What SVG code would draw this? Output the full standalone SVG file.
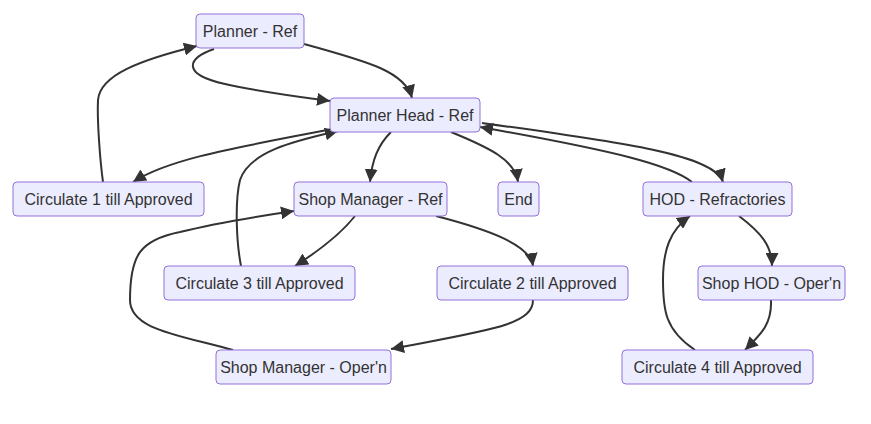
<svg xmlns="http://www.w3.org/2000/svg" width="871" height="424" viewBox="0 0 871 424">
<style>
.node rect{fill:#ECECFF;stroke:#9370DB;stroke-width:1}
.node text{font-family:"Liberation Sans",Arial,sans-serif;font-size:16px;fill:#333;text-anchor:middle;dominant-baseline:central}
.edges path{fill:none;stroke:#333;stroke-width:2;marker-end:url(#arrow)}
</style>
<defs>
<marker id="arrow" viewBox="0 0 10 10" refX="10" refY="5" markerWidth="13" markerHeight="13" markerUnits="userSpaceOnUse" orient="auto">
<path d="M0,0 L10,5 L0,10 z" fill="#333"/>
</marker>
</defs>
<rect width="871" height="424" fill="#fff"/>
<g class="edges">
<path d="M304,44 C370,62 405,72 412,98"/>
<path d="M214,49 C188,58 180,74 225,84 C260,92 300,97 330,101"/>
<path d="M103,182 C100,160 97,120 98,100 C100,75 140,60 197,46"/>
<path d="M338,128 C240,147 170,158 133,182"/>
<path d="M241,266 C236,240 235,200 240,180 C250,150 300,140 338,131"/>
<path d="M391,132 C378,145 372,160 370,182"/>
<path d="M451,132 C490,148 515,160 518,182"/>
<path d="M482,123 C620,142 715,155 723,182"/>
<path d="M692,182 C670,165 620,152 480,127"/>
<path d="M739,216 C760,232 772,245 772,266"/>
<path d="M771,300 C772,325 760,335 745,350"/>
<path d="M695,350 C665,330 663,310 663,280 C663,250 670,230 690,216"/>
<path d="M355,216 C340,235 320,250 295,266"/>
<path d="M436,216 C490,230 530,245 533,266"/>
<path d="M533,300 C533,325 490,330 391,349"/>
<path d="M233,350 C180,335 130,330 130,300 C130,255 140,240 180,232 C220,222 260,216 294,211"/>
</g>
<g id="planner-ref" class="node"><rect x="196" y="14" width="108" height="34" rx="4"/><text x="250" y="31">Planner - Ref</text></g>
<g id="planner-head-ref" class="node"><rect x="330" y="98" width="150" height="34" rx="4"/><text x="405" y="115">Planner Head - Ref</text></g>
<g id="circulate-1" class="node"><rect x="13" y="182" width="191" height="34" rx="4"/><text x="108.5" y="199">Circulate 1 till Approved</text></g>
<g id="shop-manager-ref" class="node"><rect x="294" y="182" width="153" height="34" rx="4"/><text x="370.5" y="199">Shop Manager - Ref</text></g>
<g id="end" class="node"><rect x="498" y="182" width="41" height="34" rx="4"/><text x="518.5" y="199">End</text></g>
<g id="hod-refractories" class="node"><rect x="643" y="182" width="149" height="34" rx="4"/><text x="717.5" y="199">HOD - Refractories</text></g>
<g id="circulate-3" class="node"><rect x="164" y="266" width="191" height="34" rx="4"/><text x="259.5" y="283">Circulate 3 till Approved</text></g>
<g id="circulate-2" class="node"><rect x="437" y="266" width="191" height="34" rx="4"/><text x="532.5" y="283">Circulate 2 till Approved</text></g>
<g id="shop-hod-opern" class="node"><rect x="698" y="266" width="147" height="34" rx="4"/><text x="771.5" y="283">Shop HOD - Oper'n</text></g>
<g id="shop-manager-opern" class="node"><rect x="216" y="350" width="175" height="34" rx="4"/><text x="303.5" y="367">Shop Manager - Oper'n</text></g>
<g id="circulate-4" class="node"><rect x="622" y="350" width="191" height="34" rx="4"/><text x="717.5" y="367">Circulate 4 till Approved</text></g>
</svg>
